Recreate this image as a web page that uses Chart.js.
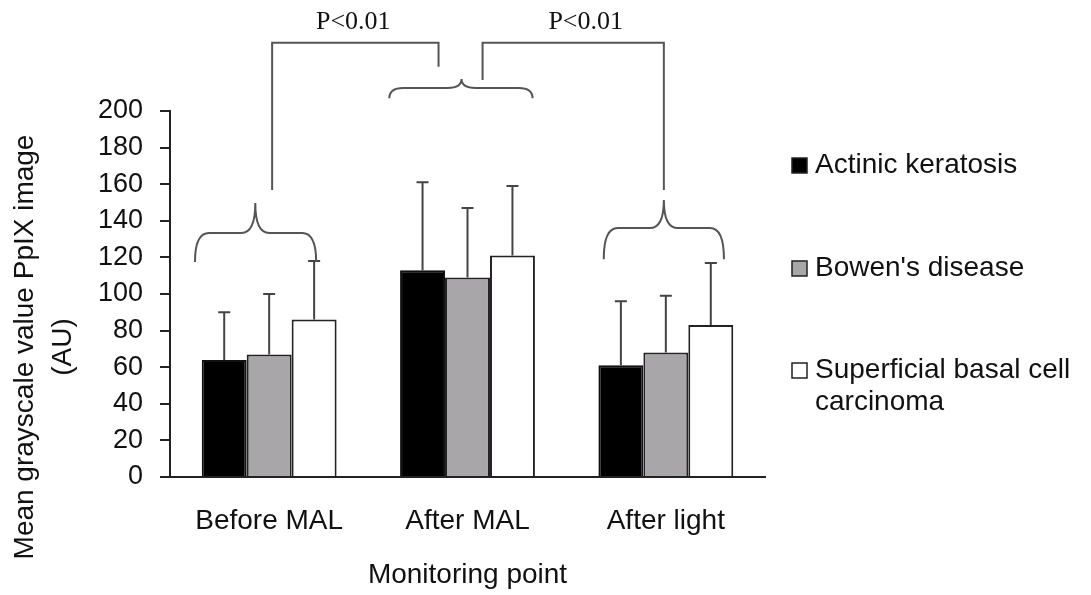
<!DOCTYPE html>
<html>
<head>
<meta charset="utf-8">
<script src="https://cdn.jsdelivr.net/npm/chart.js@4/dist/chart.umd.min.js"></script>
<style>
  html, body { margin: 0; padding: 0; background: #fff; }
  canvas { display: block; }
</style>
</head>
<body>
<canvas id="chart" width="1091" height="595"></canvas>
<script>
// data
const categories = ['Before MAL', 'After MAL', 'After light'];
const seriesNames = ['Actinic keratosis', "Bowen's disease", 'Superficial basal cell carcinoma'];
const akMean    = [64, 113, 61];
const akSD      = [26, 48, 35];
const bowenMean = [67, 109, 68];
const bowenSD   = [33, 38, 31];
const sbccMean  = [86, 121, 83];
const sbccSD    = [32, 38, 34];
const yTicks = { min: 0, max: 200, step: 20 };

const FONT = '"Liberation Sans", Arial, sans-serif';
const SERIF = '"Liberation Serif", "Times New Roman", serif';
const LINE = '#555';

const fills = ['#000000', '#a9a6aa', '#ffffff'];
const errs = [akSD, bowenSD, sbccSD];

// error bars, braces, brackets, legend, axis titles
const extras = {
  id: 'extras',
  afterDatasetsDraw(chart){
    const ctx = chart.ctx, y = chart.scales.y;
    ctx.save();
    ctx.strokeStyle = '#444';
    ctx.lineWidth = 2;
    chart.data.datasets.forEach((ds, di) => {
      chart.getDatasetMeta(di).data.forEach((bar, i) => {
        const top = y.getPixelForValue(ds.data[i] + errs[di][i]);
        ctx.beginPath();
        ctx.moveTo(bar.x, bar.y);
        ctx.lineTo(bar.x, top);
        ctx.moveTo(bar.x - 6, top);
        ctx.lineTo(bar.x + 6, top);
        ctx.stroke();
      });
    });
    ctx.restore();
  },
  afterDraw(chart){
    const ctx = chart.ctx, xs = chart.scales.x, y = chart.scales.y, area = chart.chartArea;
    const c0 = xs.getPixelForValue(0), cw = xs.getPixelForValue(1) - c0;
    const px = v => c0 + v * cw;
    const py = v => y.getPixelForValue(v);

    ctx.save();
    ctx.strokeStyle = LINE;
    ctx.lineWidth = 2;

    const brace = (xl, xr, tip, yEnd, yH, yTip) => {
      const r = 14;
      ctx.beginPath();
      ctx.moveTo(xl, yEnd);
      ctx.quadraticCurveTo(xl, yH, xl + r, yH);
      ctx.lineTo(tip - r, yH);
      ctx.quadraticCurveTo(tip, yH, tip, yTip);
      ctx.quadraticCurveTo(tip, yH, tip + r, yH);
      ctx.lineTo(xr - r, yH);
      ctx.quadraticCurveTo(xr, yH, xr, yEnd);
      ctx.stroke();
    };
    brace(px(-0.374), px(0.237), px(-0.07), py(117.5), py(133.3), py(149.7));
    brace(px(0.606), px(1.328), px(0.97), py(207), py(212.6), py(217.5));
    brace(px(1.687), px(2.293), px(1.99), py(119), py(136), py(151.4));

    // significance brackets
    ctx.beginPath();
    ctx.moveTo(px(0.015), py(156.8));
    ctx.lineTo(px(0.015), py(237.3));
    ctx.lineTo(px(0.854), py(237.3));
    ctx.lineTo(px(0.854), py(224.2));
    ctx.moveTo(px(1.076), py(216.9));
    ctx.lineTo(px(1.076), py(237.3));
    ctx.lineTo(px(1.99), py(237.3));
    ctx.lineTo(px(1.99), py(156.8));
    ctx.stroke();

    ctx.fillStyle = '#111';
    ctx.font = '26px ' + SERIF;
    ctx.textAlign = 'center';
    ctx.textBaseline = 'middle';
    ctx.fillText('P<0.01', px(0.424), py(248.6));
    ctx.fillText('P<0.01', px(1.596), py(248.6));

    // legend
    const lx = area.right + 27;
    const items = [
      { lines: ['Actinic keratosis'], y: 165 },
      { lines: ["Bowen's disease"], y: 268 },
      { lines: ['Superficial basal cell', 'carcinoma'], y: 370 }
    ];
    ctx.font = '28px ' + FONT;
    ctx.textAlign = 'left';
    items.forEach((it, k) => {
      ctx.fillStyle = fills[k];
      ctx.fillRect(lx, it.y - 7, 15, 15);
      ctx.strokeStyle = '#222';
      ctx.lineWidth = 1.5;
      ctx.strokeRect(lx, it.y - 7, 15, 15);
      ctx.fillStyle = '#111';
      it.lines.forEach((t, j) => ctx.fillText(t, lx + 23, it.y + j * 32));
    });

    // axis titles
    ctx.textAlign = 'center';
    ctx.fillText('Monitoring point', px(1), 575);
    ctx.translate(25, 347);
    ctx.rotate(-Math.PI / 2);
    ctx.fillText('Mean grayscale value PpIX image', 0, 0);
    ctx.fillText('(AU)', 0, 38);
    ctx.restore();
  }
};

new Chart(document.getElementById('chart'), {
  type: 'bar',
  data: {
    labels: categories,
    datasets: [
      { label: seriesNames[0], data: akMean,    backgroundColor: fills[0], borderColor: '#111', borderWidth: 2 },
      { label: seriesNames[1], data: bowenMean, backgroundColor: fills[1], borderColor: '#222', borderWidth: 2 },
      { label: seriesNames[2], data: sbccMean,  backgroundColor: fills[2], borderColor: '#222', borderWidth: 2 }
    ]
  },
  options: {
    responsive: false, animation: false,
    layout: { padding: { top: 111, right: 326, left: 0, bottom: 0 } },
    datasets: { bar: { categoryPercentage: 0.68, barPercentage: 1.0 } },
    plugins: { legend: { display: false }, tooltip: { enabled: false } },
    scales: {
      x: {
        grid: { display: false, drawTicks: false },
        border: { display: true, color: '#222', width: 2 },
        ticks: { color: '#111', font: { family: FONT, size: 28 }, padding: 27, maxRotation: 0 },
        afterFit: s => { s.height = 118; }
      },
      y: {
        min: yTicks.min, max: yTicks.max,
        grid: { drawOnChartArea: false, drawTicks: true, tickLength: 10, color: '#222', lineWidth: 2 },
        border: { display: true, color: '#222', width: 2 },
        ticks: { stepSize: yTicks.step, color: '#111', font: { family: FONT, size: 27 }, padding: 17 },
        afterFit: s => { s.width = 170; }
      }
    }
  },
  plugins: [extras]
});
</script>
</body>
</html>
